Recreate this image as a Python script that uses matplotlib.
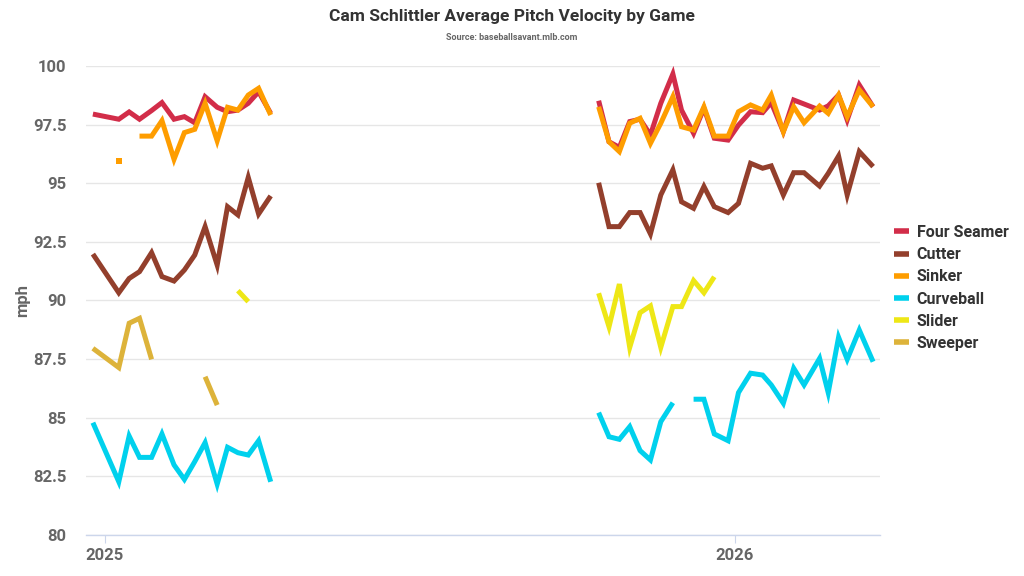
import matplotlib
matplotlib.use("Agg")
import matplotlib.pyplot as plt
import numpy as np
import pandas as pd
from matplotlib import rcParams

rcParams['font.family'] = ['Roboto', 'DejaVu Sans']
rcParams['font.weight'] = 'bold'

nan = np.nan

# game dates (two runs of games with a long break between them)
game_dates = [
    '2024-12-25', '2025-01-09', '2025-01-15', '2025-01-21', '2025-01-28', '2025-02-03',
    '2025-02-10', '2025-02-16', '2025-02-22', '2025-02-28', '2025-03-07', '2025-03-13',
    '2025-03-19', '2025-03-25', '2025-03-31', '2025-04-07',
    '2025-10-14', '2025-10-20', '2025-10-26', '2025-11-01', '2025-11-07', '2025-11-13',
    '2025-11-19', '2025-11-26', '2025-12-01', '2025-12-08', '2025-12-14', '2025-12-20',
    '2025-12-28', '2026-01-03', '2026-01-10', '2026-01-17', '2026-01-22', '2026-01-29',
    '2026-02-04', '2026-02-10', '2026-02-19', '2026-02-24', '2026-03-02', '2026-03-07',
    '2026-03-14', '2026-03-22',
]

four_seamer = [
    97.95, 97.73, 98.04, 97.73, 98.1, 98.44, 97.73, 97.84, 97.58, 98.69, 98.24, 98.05,
    98.12, 98.41, 98.9, 97.98,
    98.52, 96.77, 96.53, 97.63, 97.73, 97.06, 98.41, 99.66, 98.12, 97.13, 98.2, 96.92,
    96.84, 97.48, 98.05, 98.01, 98.44, 97.2, 98.55, 98.38, 98.12, 98.3, 98.76, 97.7,
    99.19, 98.26,
]
cutter = [
    91.98, 90.33, 90.94, 91.23, 92.04, 91.02, 90.83, 91.3, 91.94, 93.15, 91.51, 94.0,
    93.65, 95.25, 93.69, 94.46,
    95.02, 93.15, 93.15, 93.75, 93.75, 92.84, 94.5, 95.57, 94.21, 93.93, 94.86, 94.0,
    93.75, 94.14, 95.85, 95.64, 95.74, 94.5, 95.45, 95.45, 94.88, 95.42, 96.16, 94.5,
    96.35, 95.71,
]
sinker = [
    nan, 95.95, nan, 97.01, 97.01, 97.67, 96.02, 97.16, 97.3, 98.41, 96.81, 98.24,
    98.12, 98.76, 99.05, 97.91,
    98.26, 96.77, 96.35, 97.56, 97.77, 96.7, 97.56, 98.69, 97.41, 97.27, 98.26, 97.01,
    97.01, 98.05, 98.34, 98.12, 98.76, 97.2, 98.26, 97.58, 98.29, 97.98, 98.76, 97.84,
    98.98, 98.26,
]
curveball = [
    84.79, 82.27, 84.22, 83.31, 83.31, 84.31, 82.99, 82.37, 83.13, 83.94, 82.17, 83.74,
    83.51, 83.41, 84.02, 82.27,
    85.22, 84.19, 84.08, 84.62, 83.6, 83.2, 84.83, 85.64, nan, 85.79, 85.79, 84.31,
    84.02, 86.07, 86.9, 86.82, 86.4, 85.62, 87.11, 86.4, 87.53, 86.07, 88.43, 87.49,
    88.74, 87.39,
]
slider = [
    nan, nan, nan, nan, nan, nan, nan, nan, nan, nan, nan, nan,
    90.42, 89.95, nan, nan,
    90.31, 88.88, 90.7, 88.0, 89.48, 89.77, 88.0, 89.74, 89.74, 90.85, 90.33, 91.01,
    nan, nan, nan, nan, nan, nan, nan, nan, nan, nan, nan, nan,
    nan, nan,
]
sweeper = [
    87.96, 87.14, 89.03, 89.24, 87.49, nan, nan, nan, nan, 86.75, 85.54, nan,
    nan, nan, nan, nan,
    nan, nan, nan, nan, nan, nan, nan, nan, nan, nan, nan, nan,
    nan, nan, nan, nan, nan, nan, nan, nan, nan, nan, nan, nan,
    nan, nan,
]

pitch_names = ['Four Seamer', 'Cutter', 'Sinker', 'Curveball', 'Slider', 'Sweeper']
pitch_values = [four_seamer, cutter, sinker, curveball, slider, sweeper]
colors = ['#D22D49', '#933F2C', '#FE9D00', '#00D1ED', '#EEE716', '#DDB33A']

x = pd.to_datetime(game_dates)
# break the lines over the off-season
gap = np.r_[False, np.diff(x.values).astype('timedelta64[D]').astype(int) > 60]
season = np.cumsum(gap)

fig = plt.figure(figsize=(10.24, 5.76), dpi=100)
ax = fig.add_axes([86 / 1024, 41 / 576, 794 / 1024, 469 / 576])

linewidth = 3.6
handles = []
for name, vals, c in zip(pitch_names, pitch_values, colors):
    v = np.array(vals, dtype=float)
    for s in np.unique(season):
        m = season == s
        l, = ax.plot(x[m], v[m], color=c, linewidth=linewidth, label=name,
                     solid_joinstyle='miter', solid_capstyle='butt', zorder=3)
    handles.append(l)
    # single games with no neighbours would not show as a line
    ok = ~np.isnan(v)
    prev_ok = np.r_[False, ok[:-1]]
    next_ok = np.r_[ok[1:], False]
    lone = ok & ~prev_ok & ~next_ok
    if lone.any():
        ax.plot(x[lone], v[lone], linestyle='none', marker='s', markersize=4.5,
                color=c, markeredgewidth=0, zorder=3)

ax.set_ylim(80, 100)
ax.set_xlim(pd.Timestamp('2024-12-21'), pd.Timestamp('2026-03-26'))
ax.set_yticks(np.arange(80, 100.1, 2.5))
ax.yaxis.set_major_formatter(matplotlib.ticker.FuncFormatter(lambda v, p: f'{v:g}'))
ax.set_xticks([pd.Timestamp('2025-01-01'), pd.Timestamp('2026-01-01')])
ax.set_xticklabels(['2025', '2026'])

ax.grid(axis='y', color='#e6e6e6', linewidth=1)
ax.set_axisbelow(True)
for s in ['top', 'right', 'left']:
    ax.spines[s].set_visible(False)
ax.spines['bottom'].set_color('#ccd6eb')
ax.spines['bottom'].set_linewidth(1)

ax.tick_params(axis='y', length=0, pad=14, labelsize=12, labelcolor='#666666')
ax.tick_params(axis='x', length=6, color='#ccd6eb', pad=3, labelsize=12, labelcolor='#666666')
for t in ax.get_yticklabels() + ax.get_xticklabels():
    t.set_fontweight('bold')

ax.set_ylabel('mph', fontsize=12, color='#666666', fontweight='bold', labelpad=2)

fig.text(0.5, 1 - 17 / 576, 'Cam Schlittler Average Pitch Velocity by Game',
         ha='center', va='center', fontsize=12.5, fontweight='bold', color='#333333')
fig.text(0.5, 1 - 38 / 576, 'Source: baseballsavant.mlb.com',
         ha='center', va='center', fontsize=6.5, fontweight='bold', color='#666666')

fig.legend(handles=handles, loc='center left', bbox_to_anchor=(888 / 1024, 1 - 288 / 576),
           frameon=False, handlelength=0.9, handletextpad=0.5,
           labelspacing=0.45, borderaxespad=0, prop={'weight': 'bold', 'size': 11.5})
for t in fig.legends[0].get_texts():
    t.set_color('#333333')
for h in fig.legends[0].legend_handles:
    h.set_linewidth(4)

fig.savefig('out.png', dpi=100)
